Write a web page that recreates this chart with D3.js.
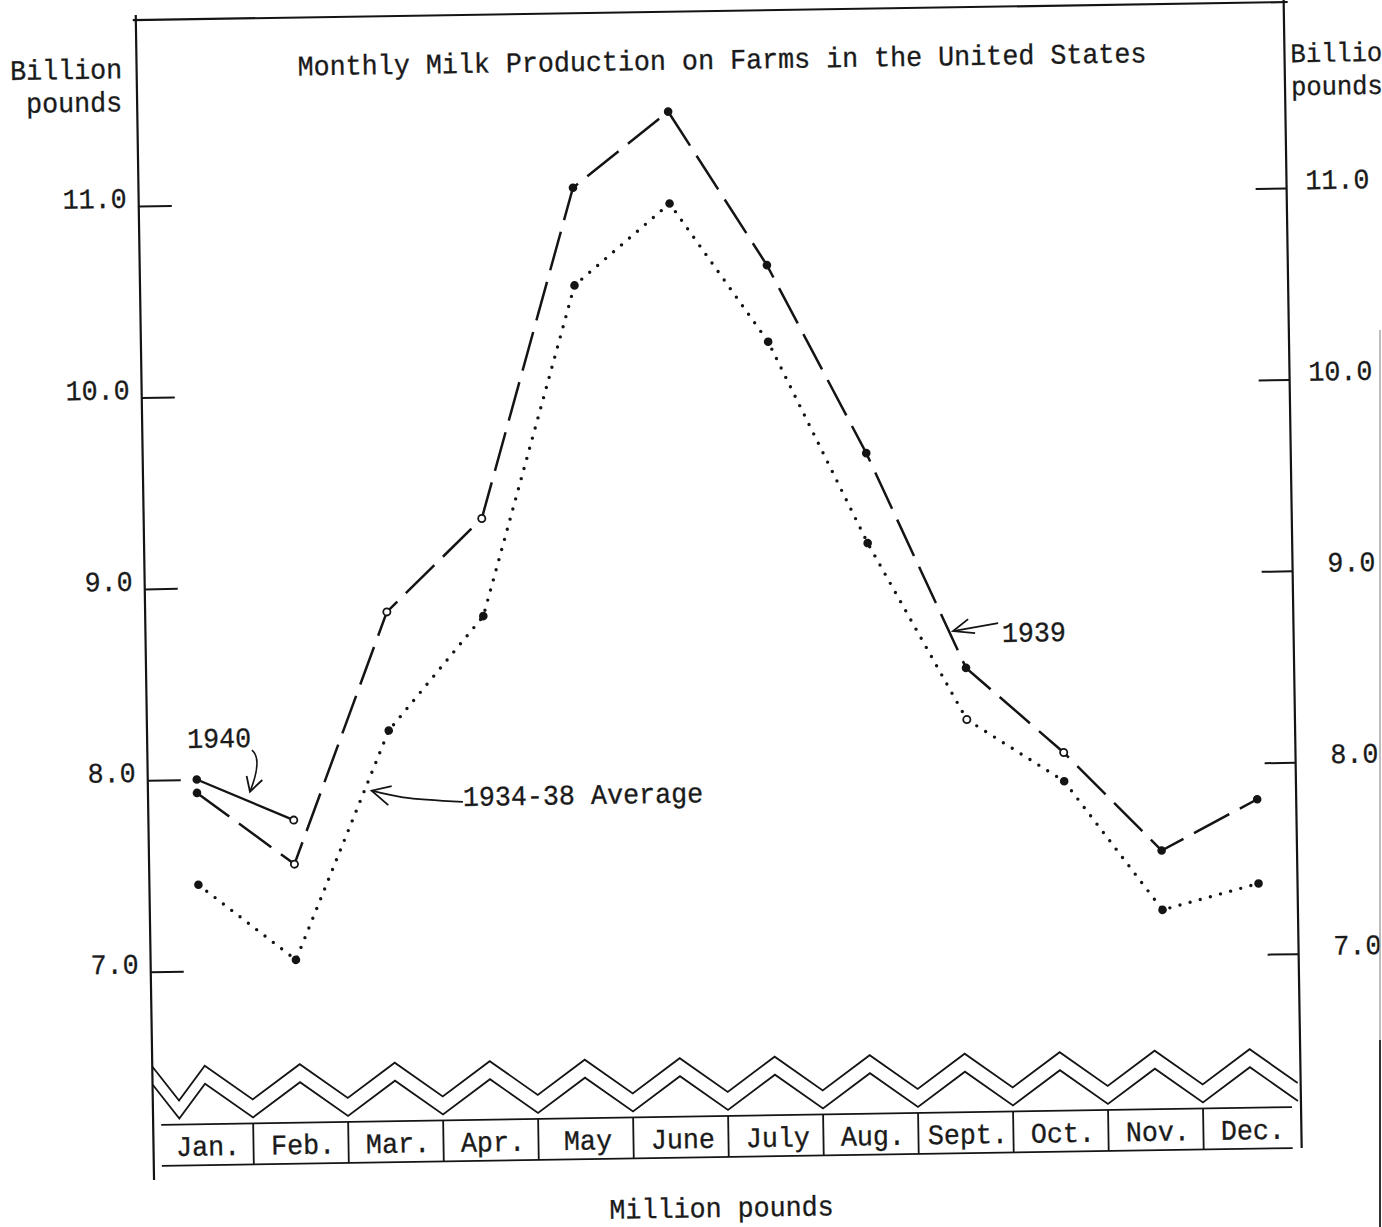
<!DOCTYPE html>
<html><head><meta charset="utf-8">
<script src="https://cdn.jsdelivr.net/npm/d3@7"></script>
<style>
html,body{margin:0;padding:0;background:#fff;overflow:hidden}
svg{display:block}
text{font-family:"Liberation Mono","Courier New",monospace;font-size:26.7px;fill:#1a1a1a;stroke:#1a1a1a;stroke-width:0.3px}
</style></head>
<body>
<svg id="c" width="1382" height="1227"></svg>
<script>
// ---- data (billion pounds) ----
const months = ["Jan.","Feb.","Mar.","Apr.","May","June","July","Aug.","Sept.","Oct.","Nov.","Dec."];
const milk1939 = [7.93, 7.55, 8.86, 9.34, 11.06, 11.45, 10.64, 9.65, 8.52, 8.07, 7.55, 7.81];
const avg1934_38 = [7.45, 7.05, 8.24, 8.83, 10.55, 10.97, 10.24, 9.18, 8.25, 7.92, 7.24, 7.37];
const milk1940 = [8.00, 7.78];
const yTicks = [7, 8, 9, 10, 11];
const yTickLabels = ["7.0", "8.0", "9.0", "10.0", "11.0"];
const titleText = "Monthly Milk Production on Farms in the United States";
const yUnitLeft = ["Billion", "pounds"];
const yUnitRight = ["Billio", "pounds"];   // cut by the page edge in the original
const xUnit = "Million pounds";

// ---- style config ----
const openMarks = { s1939: [1, 2, 3, 9], s1940: [1], avg: [8] };
const INK = "#141414";
const SY = 1.06;

const svg = d3.select("#c");
const g = svg.append("g").attr("transform", "rotate(-0.9,720,600)");

const frameL = 145, frameR = 1293, frameT = 11;
const x = d3.scalePoint().domain(months).range([194, 1254]);
const xLin = d3.scaleLinear().domain([0, months.length - 1]).range(x.range());
const y = d3.scaleLinear().domain([7, 11]).range([962.7, 197]);
const band = d3.scaleBand().domain(months).range([150, 1290]);

function txt(parent, s, tx, ty, anchor, size) {
  const t = parent.append("text")
    .attr("transform", `translate(${tx},${ty}) scale(1,${SY})`)
    .attr("text-anchor", anchor || "start")
    .text(s);
  if (size) t.style("font-size", size + "px");
  return t;
}

// ---- frame ----
const fr = g.append("g").attr("stroke", INK).attr("stroke-width", 2.2).attr("fill", "none");
fr.append("line").attr("x1", frameL).attr("y1", 6).attr("x2", frameL).attr("y2", 1171);
fr.append("line").attr("x1", 142).attr("y1", frameT).attr("x2", 1297).attr("y2", frameT);
fr.append("line").attr("x1", frameR).attr("y1", 9).attr("x2", frameR).attr("y2", 1157);

// ---- axes ----
const fmt = d => yTickLabels[yTicks.indexOf(d)];
const axL = g.append("g").attr("transform", `translate(${frameL},0)`)
  .call(d3.axisLeft(y).tickValues(yTicks).tickFormat(fmt).tickSizeInner(-33).tickSizeOuter(0).tickPadding(12));
const axR = g.append("g").attr("transform", `translate(${frameR},0)`)
  .call(d3.axisRight(y).tickValues(yTicks).tickFormat(fmt).tickSizeInner(-31).tickSizeOuter(0).tickPadding(12));
[axL, axR].forEach(a => {
  a.select(".domain").remove();
  a.selectAll(".tick line").attr("stroke", INK).attr("stroke-width", 2);
  a.selectAll(".tick text").attr("font-family", null).attr("font-size", null)
    .attr("dy", "0.32em").attr("transform", `translate(0,-8) scale(1,${SY})`);
});
axR.selectAll(".tick text").attr("text-anchor", "end").attr("x", 1376 - frameR);
svg.selectAll(".tick text").attr("fill", null);

// ---- texts ----
txt(g, titleText, 730.5, 69, "middle");
txt(g, yUnitLeft[0], 130.5, 69, "end");
txt(g, yUnitLeft[1], 130, 101.8, "end");
txt(g, yUnitRight[0], 1299, 71.3, "start", 25.5);
txt(g, yUnitRight[1], 1299, 104.3, "start", 25.5);
txt(g, xUnit, 712, 1217, "middle");

// ---- zigzag break ----
const zigPts = off => {
  const pts = [[frameL, 1057.5 + off], [(frameL + band(months[0]) + band.bandwidth() / 2) / 2, 1092 + off]];
  months.forEach((m, i) => {
    if (i > 0) pts.push([band(m), 1092 + off]);
    pts.push([band(m) + band.bandwidth() / 2, 1057.5 + off]);
  });
  pts.push([band.range()[1], 1092 + off]);
  return pts;
};
[0, 18].forEach(off => {
  g.append("path").attr("d", d3.line()(zigPts(off)))
    .attr("fill", "none").attr("stroke", INK).attr("stroke-width", 1.8);
});

// ---- month box ----
const bx = g.append("g").attr("stroke", INK).attr("stroke-width", 1.8);
bx.append("line").attr("x1", 153).attr("x2", 1284).attr("y1", 1116).attr("y2", 1116);
bx.append("line").attr("x1", 153).attr("x2", 1284).attr("y1", 1157).attr("y2", 1157);
months.slice(1).forEach(m => {
  bx.append("line").attr("x1", band(m)).attr("x2", band(m)).attr("y1", 1116).attr("y2", 1157);
});
months.forEach(m => txt(g, m, band(m) + band.bandwidth() / 2 + 2, 1147.5, "middle"));

// ---- series ----
const line = d3.line().x((d, i) => x(months[i])).y(d => y(d));
g.append("path").attr("d", line(avg1934_38)).attr("fill", "none").attr("stroke", INK)
  .attr("stroke-width", 3.4).attr("stroke-linecap", "round").attr("stroke-dasharray", "0 10.5");
g.append("path").attr("d", line(milk1939)).attr("fill", "none").attr("stroke", INK)
  .attr("stroke-width", 2.5).attr("stroke-dasharray", "40 12");
g.append("path").attr("d", line(milk1940)).attr("fill", "none").attr("stroke", INK)
  .attr("stroke-width", 2.3);

function marks(vals, key) {
  g.append("g").selectAll("circle").data(vals).join("circle")
    .attr("cx", (d, i) => x(months[i])).attr("cy", d => y(d))
    .attr("r", (d, i) => openMarks[key].includes(i) ? 3.6 : 4.3)
    .attr("fill", (d, i) => openMarks[key].includes(i) ? "#fff" : INK)
    .attr("stroke", INK).attr("stroke-width", (d, i) => openMarks[key].includes(i) ? 1.8 : 0);
}
marks(milk1939, "s1939");
marks(avg1934_38, "avg");
marks(milk1940, "s1940");

// ---- annotations ----
const annotations = [
  { label: "1939", tip: [7.872, 8.713], shaft: [[0, 0], [45.1, -7.3]], arms: [[15.2, -11.8], [22, 2.3]], text: [48.8, 11.7] },
  { label: "1934-38 Average", tip: [1.813, 7.927], shaft: [[0, 0], [31.2, 7.1], [91.1, 12.5]], arms: [[20.1, -4.4], [16.4, 14.6]], text: [91.1, 16.8] },
  { label: "1940", tip: [0.55, 7.932], curve: [[2.6, -41.6], [13.5, -32.4]], arms: [[-3.1, -15.7], [12.5, -11.5]], text: [-62, -44.7] }
];
annotations.forEach(a => {
  const tx = xLin(a.tip[0]), ty = y(a.tip[1]);
  const ag = g.append("g").attr("transform", `translate(${tx},${ty})`);
  if (a.shaft) {
    ag.append("path").attr("d", d3.line().curve(d3.curveCatmullRom)(a.shaft))
      .attr("fill", "none").attr("stroke", INK).attr("stroke-width", 1.8);
  } else {
    const [t, c] = a.curve;
    ag.append("path").attr("d", `M${t[0]},${t[1]}Q${c[0]},${c[1]} 0,0`)
      .attr("fill", "none").attr("stroke", INK).attr("stroke-width", 1.6);
  }
  ag.append("path").attr("d", d3.line()([a.arms[0], [0, 0], a.arms[1]]))
    .attr("fill", "none").attr("stroke", INK).attr("stroke-width", 1.8);
  txt(ag, a.label, a.text[0], a.text[1], "start");
});

// ---- paper edge ----
svg.append("line").attr("x1", 1380).attr("x2", 1380).attr("y1", 330).attr("y2", 1227)
  .attr("stroke", "#9a9a9a").attr("stroke-width", 1.3);
svg.append("line").attr("x1", 1380).attr("x2", 1380).attr("y1", 1040).attr("y2", 1227)
  .attr("stroke", "#333").attr("stroke-width", 2);
</script>
</body></html>
